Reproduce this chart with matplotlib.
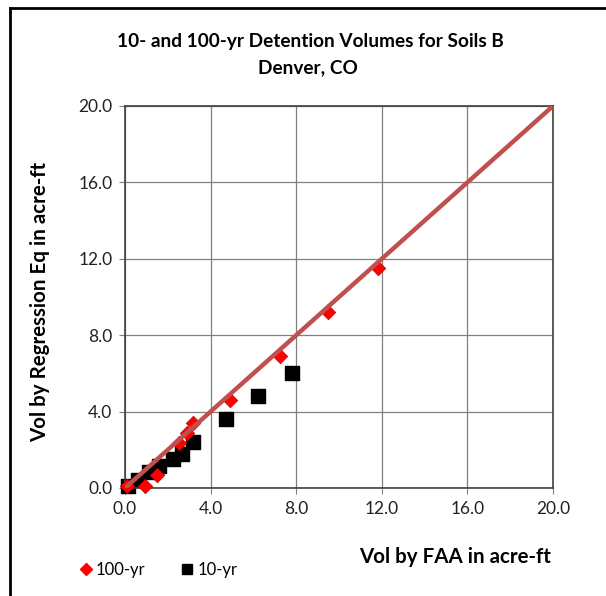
import matplotlib
matplotlib.use("Agg")
import matplotlib.pyplot as plt
from matplotlib.lines import Line2D

plt.rcParams['font.family'] = ['Lato', 'DejaVu Sans']

# 100-yr (red diamonds)
x100 = [0.1, 0.95, 1.5, 2.5, 2.9, 3.2, 4.9, 7.24, 9.5, 11.8]
y100 = [0.1, 0.1, 0.7, 2.35, 2.9, 3.4, 4.6, 6.9, 9.2, 11.5]
# 10-yr (black squares)
x10 = [0.15, 0.6, 1.1, 1.6, 2.25, 2.65, 3.2, 4.7, 6.2, 7.8]
y10 = [0.1, 0.4, 0.85, 1.15, 1.5, 1.8, 2.4, 3.6, 4.8, 6.0]
# 1:1 line
line_x = [0, 20]
line_y = [0, 20]
ticks = [0, 4, 8, 12, 16, 20]
tick_labels = ["0.0", "4.0", "8.0", "12.0", "16.0", "20.0"]

fig = plt.figure(figsize=(6.06, 5.96), dpi=100)
W, H = 606, 596
ax = fig.add_axes([125 / W, 1 - 488 / H, (553 - 125) / W, (488 - 106) / H])

ax.set_xlim(0, 20)
ax.set_ylim(0, 20)
ax.set_xticks(ticks)
ax.set_yticks(ticks)
ax.set_xticklabels(tick_labels)
ax.set_yticklabels(tick_labels)
ax.grid(True, color='#808080', linewidth=0.9)
ax.set_axisbelow(True)
for s in ax.spines.values():
    s.set_color('#404040')
    s.set_linewidth(1.2)
ax.tick_params(axis='both', direction='out', length=4, color='#808080',
               labelsize=12.5, labelcolor='#222222', pad=5)

ax.scatter(x100, y100, marker='D', s=55, color='#FF0000', edgecolors='#C00000',
           linewidths=0.5, zorder=3, label='100-yr', clip_on=False)
ax.scatter(x10, y10, marker='s', s=95, color='#000000', zorder=2, label='10-yr',
           clip_on=False)
ax.plot(line_x, line_y, color='#C0504D', linewidth=3.2, zorder=4, solid_capstyle='butt')

fig.text(310 / W, 1 - 42 / H, "10- and 100-yr Detention Volumes for Soils B",
         ha='center', va='center', fontsize=13.7, fontweight='bold')
fig.text(308 / W, 1 - 68 / H, "Denver, CO",
         ha='center', va='center', fontsize=13.7, fontweight='bold')

fig.text(40 / W, 1 - 302 / H, "Vol by Regression Eq in acre-ft", rotation=90,
         ha='center', va='center', fontsize=14.8, fontweight='bold')
fig.text(455 / W, 1 - 557 / H, "Vol by FAA in acre-ft",
         ha='center', va='center', fontsize=14.8, fontweight='bold')

handles = [Line2D([], [], marker='D', linestyle='none', color='#FF0000', markersize=6),
           Line2D([], [], marker='s', linestyle='none', color='#000000', markersize=7)]
fig.legend(handles, ['100-yr', '10-yr'], loc='center left',
           bbox_to_anchor=(66 / W, 1 - 570 / H), ncol=2, frameon=False,
           fontsize=12, handlelength=0.6, handletextpad=0.3, columnspacing=2.2)

# outer frame (clipped on right/bottom)
fig.add_artist(Line2D([10 / W, 10 / W], [0, 1 - 8 / H], transform=fig.transFigure,
                      color='black', linewidth=2))
fig.add_artist(Line2D([10 / W, 1], [1 - 8 / H, 1 - 8 / H], transform=fig.transFigure,
                      color='black', linewidth=2))

fig.savefig("out.png", dpi=100)
